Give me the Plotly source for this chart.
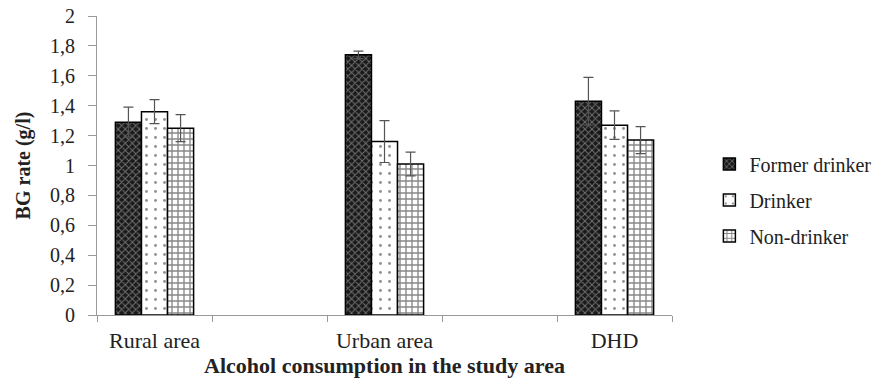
import plotly.graph_objects as go

categories = ["Rural area", "Urban area", "DHD"]
series_names = ["Former drinker", "Drinker", "Non-drinker"]
former = [1.29, 1.74, 1.43]
former_err = [0.10, 0.025, 0.16]
drinker = [1.36, 1.16, 1.27]
drinker_err = [0.08, 0.14, 0.095]
nondrinker = [1.25, 1.01, 1.17]
nondrinker_err = [0.09, 0.08, 0.09]
y_ticks = [0, 0.2, 0.4, 0.6, 0.8, 1, 1.2, 1.4, 1.6, 1.8, 2]

# spacer categories between groups, as in the original layout
cat_order = [categories[0], " ", categories[1], "  ", categories[2]]

font_family = "Liberation Serif, Times New Roman, serif"

styles = [
    dict(color="#1a1a1a", pattern=dict(shape="x", fgcolor="#c8c8c8", size=5, solidity=0.35)),
    dict(color="white", pattern=dict(shape=".", fgcolor="#222222", size=9, solidity=0.08)),
    dict(color="white", pattern=dict(shape="+", fgcolor="#111111", size=6, solidity=0.4)),
]

fig = go.Figure()
for i, (name, vals, errs) in enumerate(zip(series_names,
                                           [former, drinker, nondrinker],
                                           [former_err, drinker_err, nondrinker_err])):
    st = styles[i]
    fig.add_trace(go.Bar(
        name=name, x=categories, y=vals,
        legendgroup=name,
        marker=dict(color=st["color"], pattern=st["pattern"],
                    line=dict(color="black", width=1.5)),
        error_y=dict(type="data", array=errs, visible=True,
                     color="#555555", thickness=1.2, width=5),
    ))

fig.update_layout(
    width=885, height=381,
    margin=dict(l=97, r=213, t=16, b=66, autoexpand=False),
    paper_bgcolor="white", plot_bgcolor="white",
    barmode="group", bargap=0.32, bargroupgap=0,
    separators=",.",
    font=dict(family=font_family, size=20, color="#222222"),
    legend=dict(x=1.065, y=0.385, xanchor="left", yanchor="middle",
                traceorder="grouped", tracegroupgap=7,
                font=dict(family=font_family, size=20, color="#222222"),
                itemwidth=30),
    showlegend=True,
)
fig.update_xaxes(
    type="category", categoryorder="array", categoryarray=cat_order,
    tickson="boundaries", ticks="outside", ticklen=6, tickcolor="#999999",
    showline=True, linecolor="#999999", linewidth=1,
    showgrid=False, range=[-0.5, 4.5], automargin=False,
    tickfont=dict(size=22), ticklabelstandoff=6,
    title=dict(text="<b>Alcohol consumption in the study area</b>",
               font=dict(size=22), standoff=5),
)
fig.update_yaxes(
    range=[0, 2], tickvals=y_ticks, ticks="outside", ticklen=8,
    tickcolor="#999999", showline=True, linecolor="#999999", linewidth=1,
    showgrid=False, zeroline=False, automargin=False,
    tickfont=dict(size=20), ticklabelstandoff=9,
    title=dict(text="<b>BG rate (g/l)</b>", font=dict(size=20), standoff=14),
)

fig.write_html("out.html")
